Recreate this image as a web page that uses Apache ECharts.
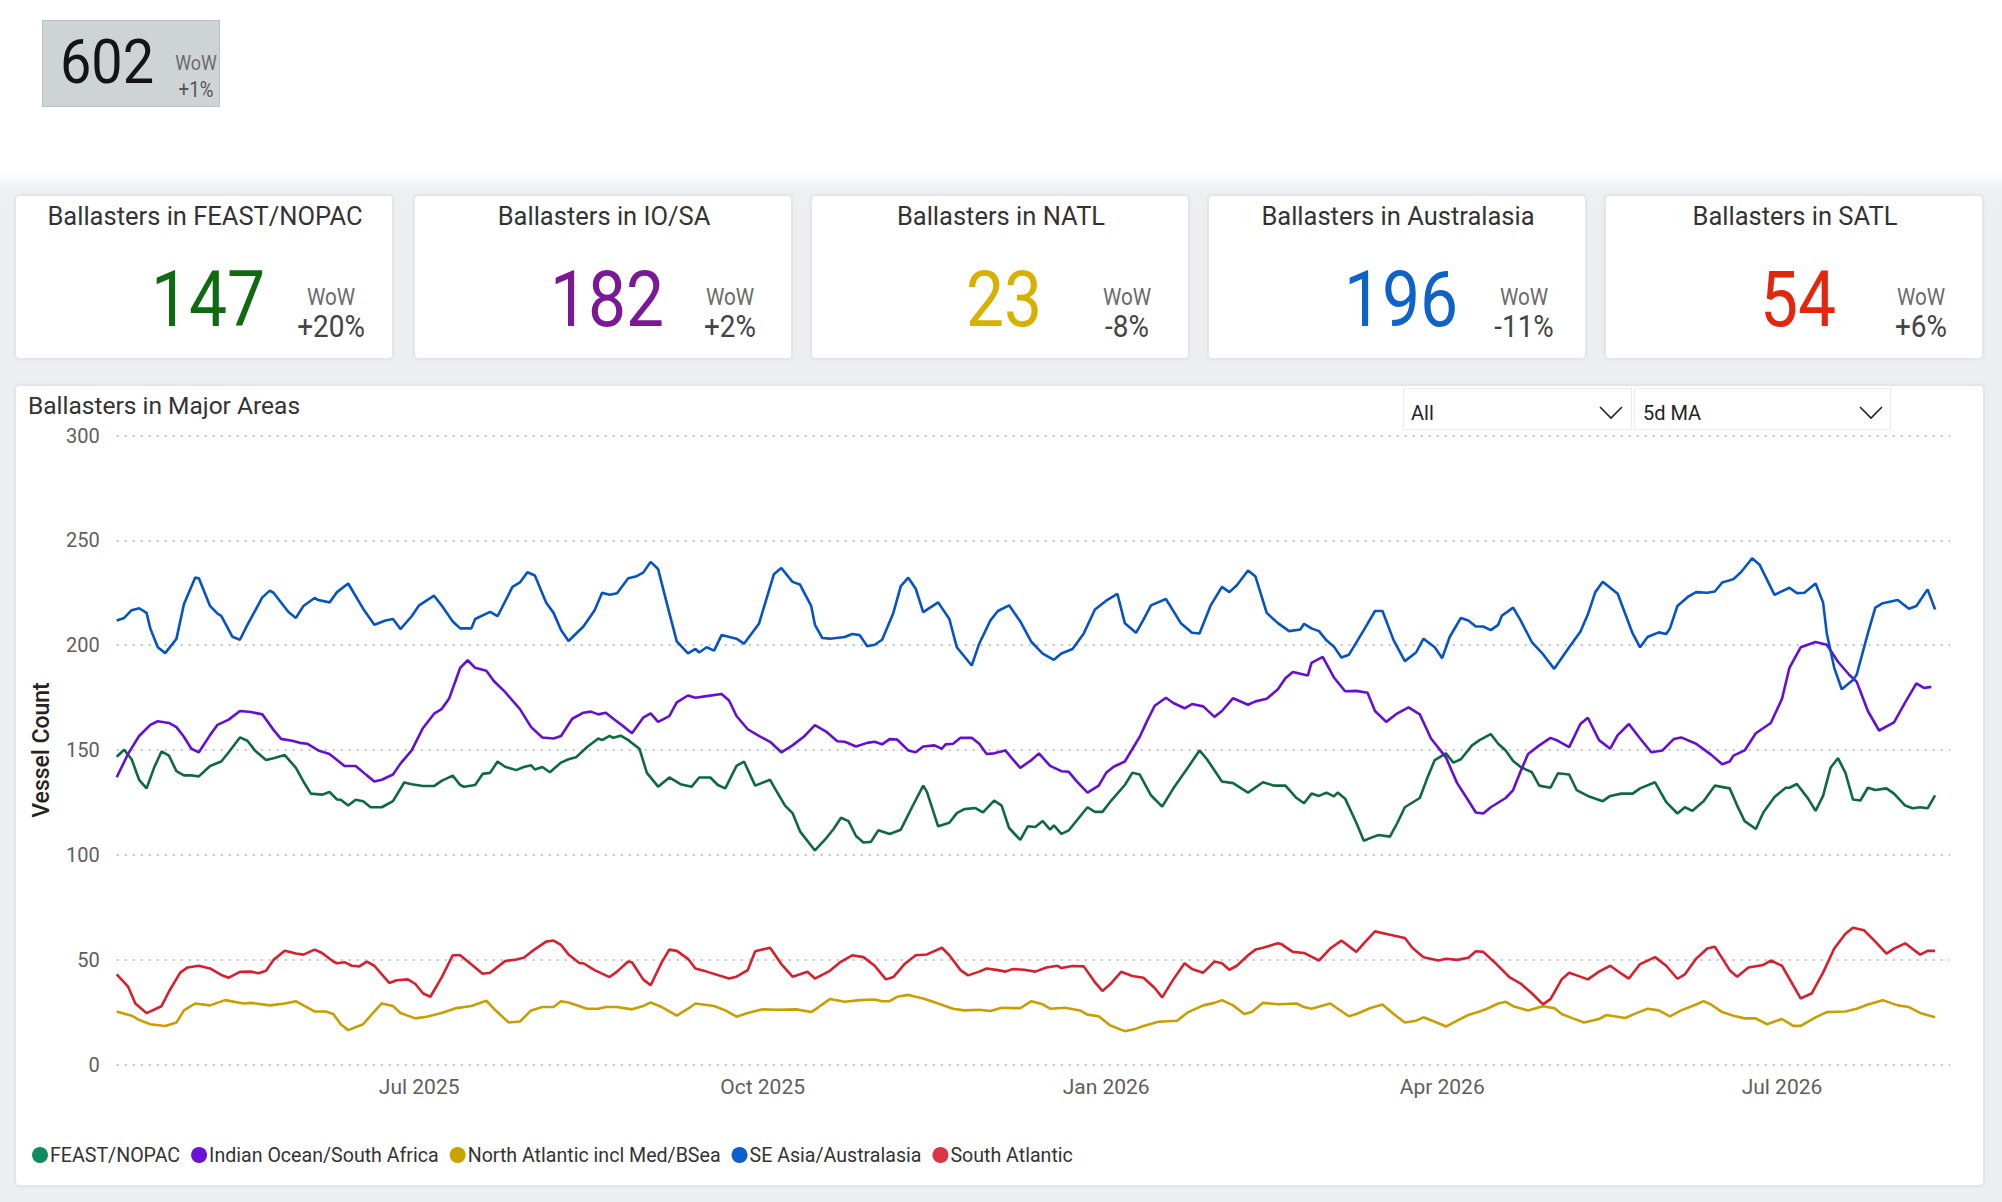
<!DOCTYPE html>
<html>
<head>
<meta charset="utf-8">
<script src="https://cdn.jsdelivr.net/npm/echarts@6/dist/echarts.min.js"></script>
<style>
  html, body { margin:0; padding:0; }
  body { width:2002px; height:1202px; position:relative; overflow:hidden; background:#ffffff; font-family: Roboto, "Noto Sans", sans-serif; color:#252423; }
  .bg { position:absolute; left:0; top:172px; width:2002px; height:1030px; background:linear-gradient(#ffffff 0px, #eef0f2 18px, #eceef1 40px); }
  .abs { position:absolute; white-space:nowrap; line-height:1; }
  .kpi602 { position:absolute; left:42px; top:20px; width:176px; height:85px; background:#ced4d6; border:1px solid #b9c0c2; }
  .card { position:absolute; top:195px; width:378px; height:164px; background:#fff; border-radius:4px; box-shadow:0 0 3px rgba(0,0,0,0.10); border:1px solid #e3e5e8; box-sizing:border-box; }
  .panel { position:absolute; left:15px; top:385px; width:1969px; height:801px; background:#fff; border-radius:4px; box-shadow:0 0 3px rgba(0,0,0,0.10); border:1px solid #e3e5e8; box-sizing:border-box; }
  .dd { position:absolute; top:388px; height:42px; background:#fff; border:1px solid #ececec; box-sizing:border-box; }
  #chart { position:absolute; left:0; top:0; width:2002px; height:1202px; }
</style>
</head>
<body>
<div class="bg"></div>
<div id="kpis"></div>
<div class="panel"></div>
<div class="dd" style="left:1403px;width:229px;"></div>
<div class="dd" style="left:1634px;width:257px;"></div>
<div id="overlay"></div>
<div id="chart"></div>
<script>
// ---------------- DATA ----------------
const START_DATE = Date.UTC(2025, 3, 11);   // day 0 of the series
const AXIS_DAYS = 492;                      // x-axis runs day 0 .. day 491
const MONTHS = ['Jan','Feb','Mar','Apr','May','Jun','Jul','Aug','Sep','Oct','Nov','Dec'];
const LABEL_MONTH_DAYS = ['01-01','04-01','07-01','10-01'];

const seriesNames = ['FEAST/NOPAC','Indian Ocean/South Africa','North Atlantic incl Med/BSea','SE Asia/Australasia','South Atlantic'];
const lineColors  = ['#0e6a3e','#6410d4','#c99e00','#0553c4','#d71f2e'];
const legendColors= ['#118a5e','#6a12d8','#cba300','#0b5fcf','#dc3546'];

const yTicks = [0, 300, 50]; // min, max, step

// [day offset from START_DATE, vessel count (5d MA)]
const feastNopac = [[0,146.8],[2,150.1],[4,145.6],[6,135.8],[8,131.7],[10,141.5],[12,149.3],[14,147.3],[16,139.9],[18,137.9],[20,137.9],[22,137.4],[25,142.4],[28,144.5],[30,148.9],[33,156],[35,154.4],[37,149.8],[40,145.2],[42,146.1],[45,147.6],[48,141.5],[50,135],[52,129.2],[55,128.7],[57,130],[59,126.4],[60,126.3],[62,123.5],[64,126.3],[66,125.6],[68,122.7],[71,122.7],[74,125.6],[77,134.5],[79,133.7],[82,132.8],[85,132.8],[87,135.3],[90,137.8],[92,133.3],[93,132.5],[96,133.3],[98,138.6],[100,139.1],[102,144.5],[104,142],[107,140.4],[109,141.9],[111,142.7],[112,140.7],[114,141.9],[116,139.4],[119,144],[121,145.6],[123,146.5],[126,151.4],[129,155.5],[130,154.7],[132,156.7],[133,155.8],[135,156.8],[137,154.7],[140,150.6],[142,139.1],[145,132.5],[148,136.9],[151,133.7],[154,132.5],[156,136.9],[159,136.9],[161,133.3],[163,131.7],[166,142.4],[168,144.5],[171,133],[175,135.8],[176,132.5],[179,123.5],[181,119.9],[183,111.2],[187,102.1],[190,107.9],[192,112.3],[194,117.7],[196,116.1],[198,109],[200,105.9],[202,106.2],[204,111.7],[207,109.9],[210,112],[213,122.7],[216,133],[217,130],[220,113.6],[223,115.3],[225,119.9],[227,121.8],[230,122.3],[232,120.2],[235,125.9],[237,123.5],[239,112.8],[242,107.1],[244,113.6],[246,113.3],[248,116.1],[250,112],[251,114],[253,110],[255,111.7],[260,122.7],[262,120.5],[264,120.5],[266,125.1],[270,133.3],[272,139.1],[274,138.3],[277,128.4],[280,123],[283,131.7],[287,141.9],[290,149.8],[292,145.6],[296,135],[299,134.2],[303,129.7],[307,134.6],[310,133],[313,133],[316,127.1],[318,124.6],[320,129.2],[322,128.1],[324,129.7],[326,127.9],[327,129.7],[329,126.8],[332,115.3],[334,106.7],[336,108.2],[338,109.5],[341,108.7],[343,115.3],[345,122.7],[349,127.1],[351,136.6],[353,145.2],[356,148.4],[358,144],[360,145.6],[363,152.2],[365,154.7],[368,157.6],[370,153],[372,149.8],[374,144.8],[376,141.9],[379,139.4],[381,133],[384,132],[386,138.9],[389,138.3],[391,130.9],[394,128.1],[398,125.6],[400,128.1],[403,129.2],[406,129.2],[408,131.7],[412,134.6],[415,125.1],[418,119.7],[420,122.7],[422,121],[425,125.5],[428,133],[432,131.7],[434,123.5],[436,116.1],[439,112.3],[441,120.2],[444,127.6],[447,132],[448,132],[450,133.8],[453,126.8],[455,121],[457,128.1],[459,141.5],[461,146.1],[463,139.1],[465,126.4],[467,125.9],[469,132],[471,130.9],[474,131.7],[476,129.2],[479,123.5],[481,122.2],[483,122.7],[485,122.2],[487,128.4]];

const indianOceanSA = [[0,137],[3,148],[6,156.7],[9,162],[11,163.7],[14,162.9],[16,160.9],[18,156.3],[20,150.6],[22,148.9],[25,157.1],[27,162],[30,164.5],[33,168.6],[36,168.1],[39,167],[42,159.6],[44,155.3],[47,154.4],[49,153.4],[51,153],[54,149.8],[57,148.1],[61,142.4],[64,142.4],[67,137.9],[69,135],[71,135.8],[74,138.3],[76,143.5],[79,149.8],[82,160.4],[85,167.3],[87,169.5],[89,174.4],[92,189.2],[94,192.8],[96,189.2],[99,187.8],[101,182.9],[104,177.7],[108,169.5],[111,160.9],[114,156],[117,155.5],[119,156.7],[122,164.9],[125,167.8],[127,168.3],[129,167],[131,167.8],[133,164.9],[136,160.9],[138,158],[141,165.4],[143,167.5],[145,163.4],[148,166.2],[150,172.7],[153,176],[155,174.9],[158,175.7],[162,176.7],[164,173.6],[166,166.2],[169,159.9],[172,156.7],[175,153.9],[178,148.9],[181,152.2],[184,156.3],[187,161.9],[190,158.8],[193,154.2],[195,153.9],[198,151.7],[201,153.4],[203,153.9],[205,152.7],[207,155.2],[209,155],[212,149.8],[214,148.9],[216,151.7],[219,152.2],[221,150.6],[222,152.7],[224,153],[226,155.8],[229,155.8],[231,153],[233,148.1],[235,148.4],[238,149.8],[240,145.5],[242,141.5],[245,145.2],[247,148.4],[250,142.4],[253,139.9],[255,139.6],[257,135.3],[260,129.7],[263,133],[265,139.1],[267,142],[270,144.5],[274,156.3],[276,164],[278,171.1],[281,174.9],[283,172.4],[286,169.9],[288,171.9],[291,170.8],[294,165.8],[296,168.6],[299,174.7],[303,171.6],[305,173.2],[308,174.4],[311,179],[313,184.2],[315,187.2],[319,185.5],[320,191.6],[323,194.4],[326,184.6],[329,178],[332,178.2],[335,177.3],[337,168.6],[340,163.4],[343,167.5],[346,170.3],[349,167],[352,155.5],[356,146.5],[359,134.2],[362,125.9],[364,120.2],[366,119.7],[368,122.7],[372,127.1],[374,130.9],[376,139.9],[378,148.1],[381,152.2],[384,155.8],[386,154.4],[389,151.4],[392,162.4],[394,165.4],[397,154.7],[400,150.6],[402,157.1],[405,162.4],[408,155.5],[411,148.9],[414,149.8],[417,155.2],[419,156],[423,153],[427,147.8],[430,143.2],[432,144.5],[433,147.3],[436,149.8],[439,158],[443,162.9],[446,174.4],[448,189.2],[451,199],[455,201.5],[458,200.2],[461,192.1],[464,185.9],[466,182.6],[469,168.6],[472,159.3],[476,163.2],[479,172.7],[482,181.8],[484,179.6],[486,180.1]];

const northAtlantic = [[0,25.3],[4,23.3],[6,21.3],[9,19.2],[13,18.4],[16,20],[18,25.8],[21,29.1],[25,28.2],[29,30.7],[34,29.1],[36,29.4],[41,28.2],[45,29.1],[48,30.2],[50,28.2],[53,25.3],[56,25.3],[58,24.1],[60,19.2],[62,16.4],[66,19.2],[68,23.3],[71,29.1],[74,27.9],[76,24.6],[80,22],[83,22.8],[87,24.6],[91,26.9],[95,27.9],[99,30.4],[101,26.6],[105,20],[108,20.5],[111,25.8],[114,27.4],[117,27.4],[119,30.2],[121,29.6],[126,26.6],[129,26.6],[131,27.4],[134,27.4],[138,26.3],[141,27.9],[143,29.6],[146,27.4],[150,23.3],[153,26.6],[155,29.1],[160,27.9],[163,25.8],[166,22.8],[169,24.6],[173,26.3],[177,26.1],[182,26.3],[186,25],[188,27.4],[191,31.2],[195,29.9],[199,30.7],[203,31],[205,30.2],[207,30.2],[209,32.3],[212,33.2],[214,32.3],[216,31.5],[220,29.1],[224,26.6],[227,25.8],[231,26.1],[234,25.5],[237,27.1],[240,26.9],[242,26.9],[245,30.2],[248,28.7],[250,26.6],[254,27.1],[258,25.8],[260,23.8],[263,23],[266,18.7],[270,15.9],[273,17.1],[275,18.4],[279,20.4],[284,20.9],[287,25],[291,28.2],[294,29.4],[296,30.7],[299,28.2],[302,24.1],[304,25],[307,29.4],[311,28.7],[316,29.1],[318,27.4],[320,26.6],[325,29.1],[330,23],[332,24.1],[336,27.1],[339,28.6],[342,24.1],[345,20],[348,20.9],[350,22.5],[354,19.7],[356,18.1],[359,20.9],[362,23.6],[365,25.3],[367,26.6],[370,29.1],[372,29.9],[374,27.8],[378,25.8],[382,27.8],[385,26.9],[387,24.1],[390,22],[393,20],[397,21.7],[399,23.6],[404,22.2],[407,24.5],[410,26.6],[413,25.8],[416,23],[419,25.8],[423,28.6],[425,30.2],[427,28.6],[430,25],[433,23.3],[436,22],[439,22],[442,19.2],[446,21.7],[449,18.4],[451,18.4],[455,22.5],[458,25],[463,25.3],[466,26.6],[469,28.6],[473,30.7],[477,28.2],[480,27.4],[483,24.6],[487,22.5]];

const seAsiaAustralasia = [[0,211.8],[2,213],[4,216.7],[6,217.6],[8,215.4],[9,208],[11,199],[13,196.2],[16,203],[18,219.5],[21,232.2],[22,231.9],[25,218.7],[27,215],[28,214],[31,204],[33,202.6],[35,209.7],[39,222.8],[41,226],[42,225],[46,215.8],[48,213],[50,218.7],[53,222.5],[54,221.5],[57,220.4],[59,225.3],[62,229.4],[66,217.4],[69,209.7],[72,211.8],[74,212.5],[76,207.7],[79,213.8],[81,219],[85,223.6],[87,219],[90,211.3],[92,208],[95,208],[96,212.5],[100,215.9],[102,213.8],[106,227.8],[108,229.9],[110,234.8],[112,233.2],[115,220.4],[117,215.4],[119,207.2],[121,202],[125,208.9],[128,216.7],[130,225],[132,224],[134,224.8],[137,231.9],[139,232.7],[141,234.6],[143,239.7],[145,236.3],[148,215.4],[150,201.8],[153,196.1],[155,198.2],[156,196.5],[158,199],[160,197.4],[162,204.8],[166,203.1],[168,200.7],[172,210.2],[174,222],[176,233.8],[178,236.8],[181,230.2],[183,228.9],[186,218.7],[187,209.7],[189,203.4],[191,203.1],[195,203.9],[197,205.3],[199,204.8],[201,199.5],[203,200.2],[205,202.6],[208,215.4],[210,228.2],[212,232.2],[214,226.9],[216,215.8],[220,220.4],[223,212.5],[225,199],[229,190.3],[231,200.7],[234,211.8],[236,216.3],[239,219],[242,211.3],[245,201.5],[248,196],[251,193],[253,196],[256,198.2],[259,205.6],[262,217],[265,221.2],[268,224.5],[270,210.5],[273,205.9],[275,212.2],[277,219],[281,222],[285,210.5],[288,205.9],[290,205.6],[293,219],[296,227.8],[298,225.3],[300,228.6],[303,235.6],[305,232.7],[308,215.4],[311,210.5],[314,206.7],[317,207.5],[318,210.2],[320,208],[322,206.7],[324,202.3],[326,199.3],[328,194.1],[330,195.4],[334,207.2],[337,216.3],[339,216.3],[342,202.3],[345,192.4],[348,196.5],[350,203.1],[353,199],[355,193.8],[357,203.9],[360,213],[362,211.8],[364,208.9],[366,208.9],[368,207.2],[370,209.7],[371,214.1],[374,217.9],[376,211.8],[379,201.5],[382,195.7],[385,188.7],[389,199],[392,206.4],[394,214.6],[396,225.3],[398,230.2],[402,224.5],[406,205.6],[408,199],[410,203.9],[413,206.1],[415,205.3],[416,208],[418,218.7],[421,223.3],[423,225.3],[426,225],[428,225.6],[430,229.9],[433,231.5],[435,234.8],[437,239.2],[438,241.4],[440,238.4],[444,224],[448,227.4],[450,224.8],[452,225],[455,229.4],[457,220.4],[458,205.6],[460,189.2],[462,179],[465,183.4],[466,185.9],[469,205.6],[471,217.9],[473,220],[477,221.5],[480,217.4],[482,218.7],[485,226.6],[487,217]];

const southAtlantic = [[0,43],[3,37.3],[5,29.1],[8,24.5],[12,27.8],[14,34.8],[17,43.8],[19,46.3],[22,47.1],[25,45.8],[28,42.7],[30,41.4],[33,44.2],[36,44.3],[38,43.5],[40,44.7],[42,49.9],[45,54.2],[48,52.9],[50,52.4],[53,54.8],[55,53.2],[58,49.1],[59,48.3],[61,48.8],[63,47.1],[65,46.8],[67,49.1],[69,47.1],[73,38.9],[75,40.2],[78,40.6],[80,38.4],[82,34],[84,32.3],[87,41.4],[90,52.1],[92,52.1],[96,46.3],[98,43.3],[100,43.8],[104,49.3],[107,50.1],[109,50.9],[111,53.7],[115,58.6],[117,59.1],[119,57],[121,52.5],[124,48.3],[125,48.3],[128,45],[132,41.7],[134,44.3],[137,49.1],[138,48.8],[141,40.6],[143,37.8],[146,48.8],[148,54.8],[150,54.2],[153,50.4],[155,45.8],[158,44.3],[164,41],[166,41.9],[169,45],[171,54],[175,55.7],[178,47.9],[181,41.9],[185,44.2],[187,41],[191,44.7],[194,49.1],[197,52.1],[200,51.2],[203,47.1],[206,40.6],[208,41.7],[211,47.9],[214,52.1],[217,52.5],[221,55.7],[223,52.1],[226,45],[228,42.5],[231,44.3],[233,45.8],[236,45],[238,44.3],[240,45.5],[243,45.2],[246,44.3],[249,46.3],[252,47.1],[253,46],[256,47],[259,46.8],[262,39.2],[264,35.1],[266,38.1],[269,44.2],[272,42.2],[275,41.4],[278,36.5],[280,32],[283,40.6],[286,48.3],[288,45.5],[291,43.8],[294,49.1],[296,48.3],[298,45.2],[300,47.1],[303,52.1],[305,54.8],[307,55.7],[311,57.8],[312,57.3],[315,53.7],[318,53.2],[322,49.6],[325,55.3],[328,59.1],[332,53.7],[334,57.8],[337,63.5],[341,61.9],[345,60.3],[347,55.7],[350,51.2],[354,49.6],[356,50.4],[359,49.9],[362,50.9],[364,54],[366,53.7],[369,48.8],[373,41.7],[376,38.6],[379,34],[382,28.7],[384,31.2],[387,40.6],[389,43.8],[392,41.9],[394,40.6],[397,44.3],[400,47.1],[403,43.3],[405,41],[408,47.9],[412,51.2],[415,47.1],[418,40.9],[420,43],[423,50.4],[426,55.3],[428,56.2],[432,45],[434,41.9],[437,46.3],[441,47.5],[443,49.6],[446,47.1],[451,31.5],[454,34],[457,43.8],[460,55.3],[463,62.4],[465,65.2],[468,64],[471,58.6],[474,52.9],[476,55.3],[479,57.8],[483,52.4],[485,54.2],[487,54.2]];

// KPI cards
const totalValue = '602';
const totalWoW = '+1%';
const kpiTitles = ['Ballasters in FEAST/NOPAC','Ballasters in IO/SA','Ballasters in NATL','Ballasters in Australasia','Ballasters in SATL'];
const kpiValues = ['147','182','23','196','54'];
const kpiWoW    = ['+20%','+2%','-8%','-11%','+6%'];
const kpiColors = ['#0f6a12','#7a1896','#d8b100','#0d63c8','#e4260e'];

const chartTitle = 'Ballasters in Major Areas';
const filterLabels = ['All','5d MA'];

// ---------------- LAYOUT (HTML) ----------------
function txt(parent, s, left, baseline, fs, opts) {
  opts = opts || {};
  const d = document.createElement('div');
  d.className = 'abs';
  d.textContent = s;
  d.style.fontSize = fs + 'px';
  d.style.top = (baseline - 0.842 * fs) + 'px';
  d.style.color = opts.color || '#252423';
  if (opts.weight) d.style.fontWeight = opts.weight;
  const sx = opts.scaleX || 1;
  if (opts.center !== undefined) {
    d.style.left = opts.center + 'px';
    d.style.transform = 'translateX(-50%) scaleX(' + sx + ')';
  } else {
    d.style.left = left + 'px';
    d.style.transformOrigin = 'left center';
    d.style.transform = 'scaleX(' + sx + ')';
  }
  parent.appendChild(d);
  return d;
}

const kp = document.getElementById('kpis');
const box = document.createElement('div'); box.className = 'kpi602'; kp.appendChild(box);
txt(kp, totalValue, 0, 83, 62, {center: 107, color:'#141414', scaleX:0.9});
txt(kp, 'WoW', 0, 70.5, 21, {center: 195.5, color:'#6b6b6b', scaleX:0.85});
txt(kp, totalWoW, 0, 98, 22, {center: 195.5, color:'#555555', scaleX:0.85});

const cardX = [15, 414, 811, 1208, 1605];
kpiTitles.forEach((t, i) => {
  const c = document.createElement('div'); c.className = 'card';
  c.style.left = cardX[i] + 'px';
  kp.appendChild(c);
  txt(kp, t, 0, 225, 25.5, {center: cardX[i] + 190, color:'#333333'});
  txt(kp, kpiValues[i], 0, 327, 77, {center: cardX[i] + 193, color: kpiColors[i], scaleX:0.88});
  txt(kp, 'WoW', 0, 305, 23, {center: cardX[i] + 316, color:'#6b6b6b', scaleX:0.9});
  txt(kp, kpiWoW[i], 0, 337, 31, {center: cardX[i] + 316, color:'#444444', scaleX:0.9});
});

const ov = document.getElementById('overlay');
txt(ov, chartTitle, 28, 415, 24.5, {color:'#333333'});
txt(ov, filterLabels[0], 1411, 420, 20, {color:'#252423'});
txt(ov, filterLabels[1], 1643, 420, 20, {color:'#252423'});
[1599, 1859].forEach(x => {
  const s = document.createElementNS('http://www.w3.org/2000/svg','svg');
  s.setAttribute('width','24'); s.setAttribute('height','14');
  s.style.position = 'absolute'; s.style.left = x + 'px'; s.style.top = '406px';
  const p = document.createElementNS('http://www.w3.org/2000/svg','polyline');
  p.setAttribute('points','1,1 12,12 23,1');
  p.setAttribute('fill','none'); p.setAttribute('stroke','#252423'); p.setAttribute('stroke-width','1.6');
  s.appendChild(p); ov.appendChild(s);
});

// ---------------- CHART ----------------
const categories = [];
for (let i = 0; i < AXIS_DAYS; i++) {
  categories.push(new Date(START_DATE + i * 86400000).toISOString().slice(0, 10));
}
function toAxisData(points) {
  const arr = new Array(AXIS_DAYS).fill(null);
  points.forEach(p => { arr[p[0]] = p[1]; });
  return arr;
}
const allSeries = [feastNopac, indianOceanSA, northAtlantic, seAsiaAustralasia, southAtlantic];

const chart = echarts.init(document.getElementById('chart'), null, {renderer: 'svg', width: 2002, height: 1202});
chart.setOption({
  animation: false,
  backgroundColor: 'transparent',
  textStyle: { fontFamily: 'Roboto, "Noto Sans", sans-serif' },
  grid: { left: 116.7, right: 52, top: 435.5, bottom: 137.5, containLabel: false, outerBoundsMode: 'none' },
  legend: {
    left: 27, top: 1140, itemWidth: 16, itemHeight: 16, itemGap: 11, icon: 'circle',
    textStyle: { fontSize: 19.6, color: '#333333', padding: [0,0,0,-3] },
    data: seriesNames.map((n, i) => ({ name: n, itemStyle: { color: legendColors[i] } }))
  },
  xAxis: {
    type: 'category', data: categories, boundaryGap: false,
    axisLine: { show: false }, axisTick: { show: false }, splitLine: { show: false },
    axisLabel: {
      fontSize: 21, color: '#605e5c', margin: 12,
      interval: (idx, val) => LABEL_MONTH_DAYS.indexOf(val.slice(5)) >= 0,
      formatter: val => MONTHS[+val.slice(5, 7) - 1] + ' ' + val.slice(0, 4)
    }
  },
  yAxis: {
    type: 'value', min: yTicks[0], max: yTicks[1], interval: yTicks[2],
    name: 'Vessel Count', nameLocation: 'middle', nameGap: 64, nameRotate: 90,
    nameTextStyle: { fontSize: 23, color: '#252423', fontWeight: 500 },
    axisLine: { show: false }, axisTick: { show: false },
    axisLabel: { fontSize: 20, color: '#605e5c', margin: 17 },
    splitLine: { lineStyle: { color: '#c4c4c4', width: 2, type: [2, 6] } }
  },
  series: allSeries.map((pts, i) => ({
    name: seriesNames[i], type: 'line', data: toAxisData(pts),
    connectNulls: true, showSymbol: false, symbol: 'none',
    color: legendColors[i],
    lineStyle: { color: lineColors[i], width: 2.6 },
    emphasis: { disabled: true }
  }))
});
</script>
</body>
</html>
